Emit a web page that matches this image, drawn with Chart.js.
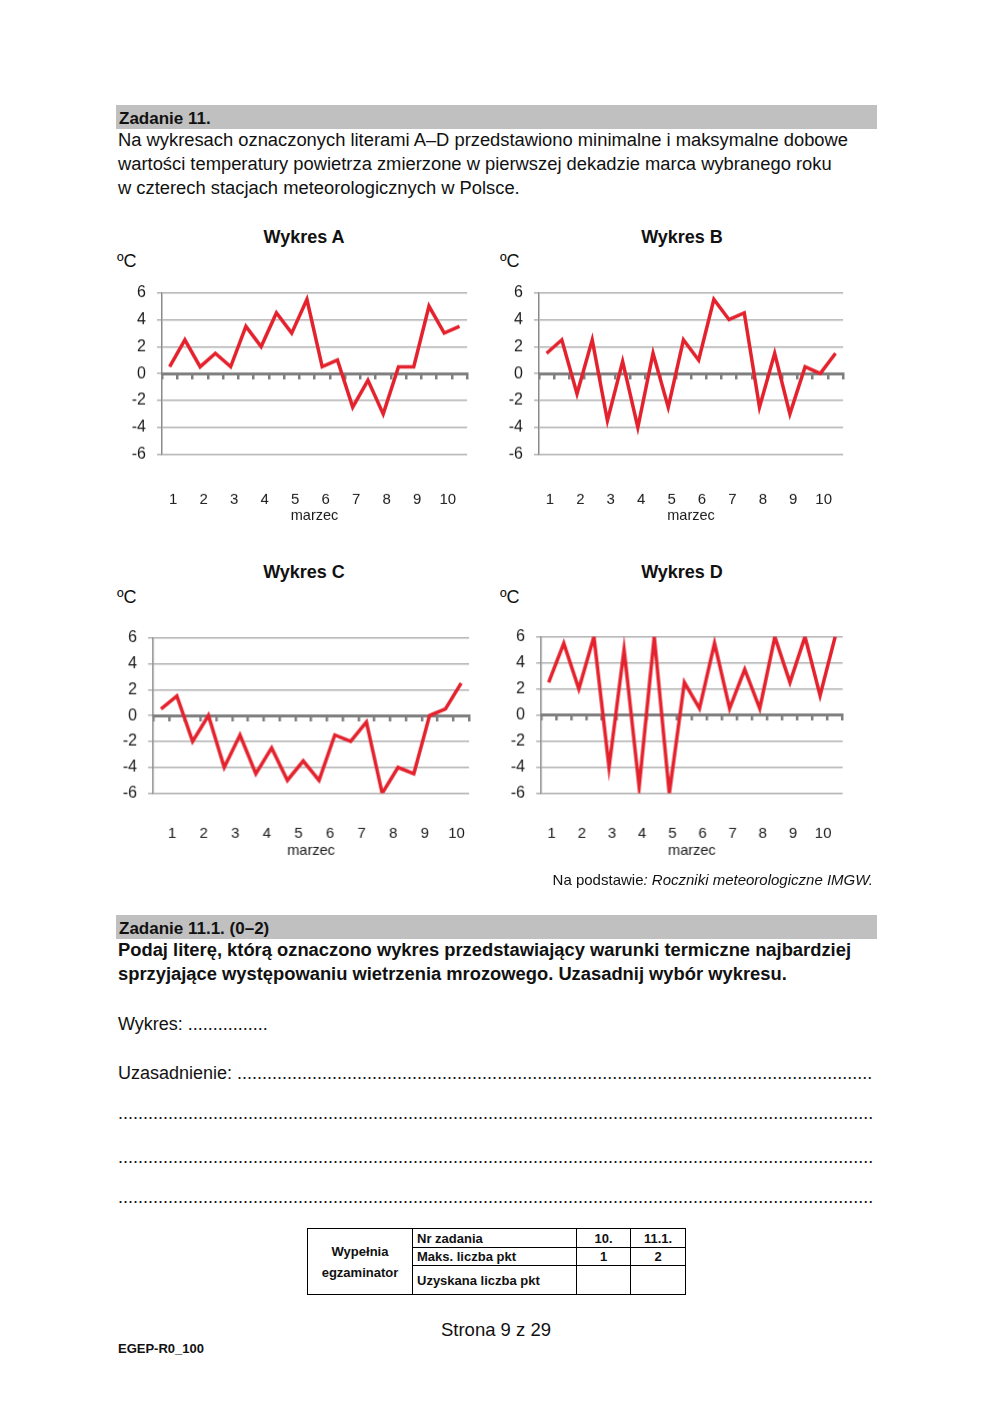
<!DOCTYPE html>
<html>
<head>
<meta charset="utf-8">
<script src="https://cdn.jsdelivr.net/npm/chart.js@4.4.1/dist/chart.umd.min.js"></script>
<style>
body { margin: 0; width: 993px; height: 1404px; background: #fff; position: relative; overflow: hidden;
  font-family: "Liberation Sans", Arial, sans-serif; color: #111; }
.t { position: absolute; white-space: nowrap; line-height: 1; }
.c { text-align: center; width: 200px; }
.bar { position: absolute; left: 116px; width: 761px; height: 24px; background: #c0c0c0; }
.bar span { position: absolute; left: 3px; top: 4px; font-weight: bold; font-size: 17px; }
.box { position: absolute; }
.dots { position: absolute; left: 118px; width: 755px; overflow: hidden; white-space: nowrap; font-size: 18px; line-height: 1; }
table { position: absolute; left: 307px; top: 1228px; border-collapse: collapse; font-size: 13px; font-weight: bold; }
td { border: 1px solid #000; padding: 0 4px; }
</style>
</head>
<body>

<div class="bar" style="top:105px"><span>Zadanie 11.</span></div>
<div class="t" style="left:118px;top:131px;font-size:18.35px">Na wykresach oznaczonych literami A–D przedstawiono minimalne i maksymalne dobowe</div>
<div class="t" style="left:118px;top:155px;font-size:18.35px">wartości temperatury powietrza zmierzone w pierwszej dekadzie marca wybranego roku</div>
<div class="t" style="left:118px;top:179px;font-size:18.35px">w czterech stacjach meteorologicznych w Polsce.</div>

<div class="t c" style="left:204px;top:228px;font-size:18px;font-weight:bold">Wykres A</div>
<div class="t" style="left:117px;top:252px;font-size:18px">ºC</div>
<div class="t c" style="left:582px;top:228px;font-size:18px;font-weight:bold">Wykres B</div>
<div class="t" style="left:500px;top:252px;font-size:18px">ºC</div>
<div class="t c" style="left:204px;top:563px;font-size:18px;font-weight:bold">Wykres C</div>
<div class="t" style="left:117px;top:588px;font-size:18px">ºC</div>
<div class="t c" style="left:582px;top:563px;font-size:18px;font-weight:bold">Wykres D</div>
<div class="t" style="left:500px;top:588px;font-size:18px">ºC</div>

<div class="box" id="boxA"><canvas id="chartA"></canvas></div>
<div class="box" id="boxB"><canvas id="chartB"></canvas></div>
<div class="box" id="boxC"><canvas id="chartC"></canvas></div>
<div class="box" id="boxD"><canvas id="chartD"></canvas></div>

<div class="t" style="right:120px;top:872px;font-size:15px">Na podstawie<i>: Roczniki meteorologiczne IMGW.</i></div>

<div class="bar" style="top:915px"><span>Zadanie 11.1. (0–2)</span></div>
<div class="t" style="left:118px;top:941px;font-size:18.35px;font-weight:bold">Podaj literę, którą oznaczono wykres przedstawiający warunki termiczne najbardziej</div>
<div class="t" style="left:118px;top:965px;font-size:18.35px;font-weight:bold">sprzyjające występowaniu wietrzenia mrozowego. Uzasadnij wybór wykresu.</div>

<div class="t" style="left:118px;top:1015px;font-size:18px">Wykres: ................</div>
<div class="dots" style="top:1064px">Uzasadnienie: ......................................................................................................................................................................................................................</div>
<div class="dots" style="top:1104px">..........................................................................................................................................................................................................................................</div>
<div class="dots" style="top:1148px">..........................................................................................................................................................................................................................................</div>
<div class="dots" style="top:1188px">..........................................................................................................................................................................................................................................</div>

<table>
  <tr style="height:19px">
    <td rowspan="3" style="width:96px;text-align:center;line-height:21px">Wypełnia<br>egzaminator</td>
    <td style="width:155px">Nr zadania</td>
    <td style="width:45px;text-align:center">10.</td>
    <td style="width:46px;text-align:center">11.1.</td>
  </tr>
  <tr style="height:18px">
    <td>Maks. liczba pkt</td>
    <td style="text-align:center">1</td>
    <td style="text-align:center">2</td>
  </tr>
  <tr style="height:29px">
    <td>Uzyskana liczba pkt</td>
    <td></td>
    <td></td>
  </tr>
</table>

<div class="t" style="left:396px;top:1321px;font-size:18.5px;width:200px;text-align:center">Strona 9 z 29</div>
<div class="t" style="left:118px;top:1342px;font-size:13px;font-weight:bold">EGEP-R0_100</div>

<script>
// dni marca (pierwsza dekada)
const days = ['1', '2', '3', '4', '5', '6', '7', '8', '9', '10'];

// temperatura min / max kolejno dla kazdego dnia (20 punktow)
const tempA = [0.5, 2.5, 0.5, 1.5, 0.5, 3.5, 2, 4.5, 3, 5.5, 0.5, 1, -2.5, -0.5, -3, 0.5, 0.5, 5, 3, 3.5];
const tempB = [1.5, 2.5, -1.5, 2.5, -3.5, 0.9, -4, 1.5, -2.5, 2.5, 1, 5.5, 4, 4.5, -2.5, 1.5, -3, 0.5, 0, 1.5];
const tempC = [0.5, 1.5, -2, 0, -4, -1.5, -4.5, -2.5, -5, -3.5, -5, -1.5, -2, -0.5, -6, -4, -4.5, 0, 0.5, 2.5];
const tempD = [2.5, 5.5, 2, 6, -4, 5, -5.5, 6, -6, 2.5, 0.5, 5.5, 0.5, 3.5, 0.5, 6, 2.5, 6, 1.5, 6];

const yMin = -6;
const yMax = 6;
const yStep = 2;

const red = '#e4222d';
const gridColor = '#b0b0b0';
const axisColor = '#8a8a8a';
const zeroColor = '#7f7f7f';
const font = '"Liberation Sans", Arial, sans-serif';

// prostokat obszaru wykresu na stronie
const plots = {
    A: {left: 162, top: 293, right: 467, bottom: 454, labelGap: 43, titleGap: 61, shift: -0.27},
    B: {left: 539, top: 293, right: 843, bottom: 454, labelGap: 43, titleGap: 61, shift: -0.28},
    C: {left: 153, top: 638, right: 468, bottom: 793, labelGap: 38, titleGap: 57, shift: 0.2},
    D: {left: 541, top: 637, right: 842, bottom: 793, labelGap: 38, titleGap: 57, shift: -0.3}
};

const Y_W = 52, X_H = 80;

const makeChart = (key, values) => {
    const p = plots[key];
    const box = document.getElementById('box' + key);
    let w = p.right - p.left + Y_W + 14;
    let h = p.bottom - p.top + X_H + 12;
    box.style.width = w + 'px';
    box.style.height = h + 'px';

    const n = values.length;
    const points = values.map((v, i) => ({x: i + 0.5, y: v}));

    const chart = new Chart('chart' + key, {
        type: 'line',
        data: {
            datasets: [{
                data: points,
                borderColor: red,
                borderWidth: 3.5,
                pointRadius: 0,
                tension: 0,
                fill: false,
                clip: 0
            }]
        },
        options: {
            responsive: true,
            maintainAspectRatio: false,
            animation: false,
            events: [],
            layout: {padding: 0},
            plugins: {legend: {display: false}, tooltip: {enabled: false}},
            scales: {
                y: {
                    type: 'linear',
                    position: 'left',
                    min: yMin,
                    max: yMax,
                    ticks: {stepSize: yStep, color: '#1a1a1a', font: {family: font, size: 16}, padding: 11},
                    grid: {
                        color: c => (c.tick && c.tick.value === 0) ? 'rgba(0,0,0,0)' : gridColor,
                        lineWidth: 1.5,
                        tickLength: 5,
                        tickColor: gridColor
                    },
                    border: {color: axisColor, width: 1.5},
                    afterFit: s => { s.width = Y_W; }
                },
                x: {
                    type: 'linear',
                    position: 'bottom',
                    min: 0,
                    max: n,
                    // etykieta dnia pod para punktow (min, max)
                    afterBuildTicks: s => { s.ticks = days.map((d, i) => ({value: 2 * i + 1 + p.shift})); },
                    ticks: {
                        autoSkip: false,
                        maxRotation: 0,
                        color: '#1a1a1a',
                        font: {family: font, size: 15},
                        padding: p.labelGap - 15,
                        callback: (v, i) => days[i]
                    },
                    grid: {display: false},
                    border: {display: false},
                    title: {
                        display: true,
                        text: 'marzec',
                        color: '#1a1a1a',
                        font: {family: font, size: 14.5},
                        padding: {top: 0, bottom: X_H - p.titleGap - 8.7}
                    },
                    afterFit: s => { s.height = X_H; }
                },
                x0: {
                    type: 'linear',
                    position: {y: 0},
                    min: 0,
                    max: n,
                    afterBuildTicks: s => { s.ticks = values.concat([0]).map((v, i) => ({value: i})); },
                    ticks: {display: false},
                    grid: {drawOnChartArea: false, drawTicks: true, tickLength: 4, lineWidth: 2.5, tickColor: zeroColor},
                    border: {color: zeroColor, width: 3}
                }
            }
        }
    });

    // dopasuj rozmiar kontenera tak, by obszar wykresu mial wymiary z obrazka
    let a = chart.chartArea;
    w += (p.right - p.left) - (a.right - a.left);
    h += (p.bottom - p.top) - (a.bottom - a.top);
    box.style.width = w + 'px';
    box.style.height = h + 'px';
    chart.resize();
    a = chart.chartArea;
    box.style.left = (p.left - a.left) + 'px';
    box.style.top = (p.top - a.top) + 'px';
    return chart;
};

makeChart('A', tempA);
makeChart('B', tempB);
makeChart('C', tempC);
makeChart('D', tempD);
</script>
</body>
</html>
